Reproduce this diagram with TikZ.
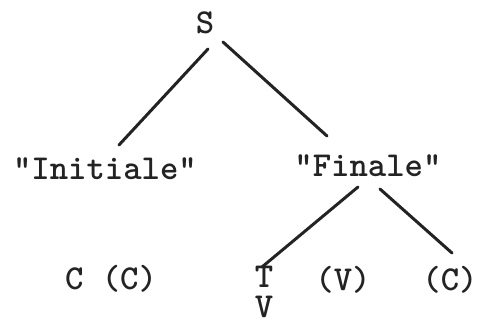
\documentclass[tikz,border=0pt]{standalone}
\usepackage{tikz}
\usepackage{xcolor}
\definecolor{Ink}{RGB}{35,35,35}

\begin{document}
\begin{tikzpicture}[x=0.5pt, y=-0.5pt, every node/.style={font=\ttfamily\bfseries\fontsize{17.5}{20}\selectfont}]
  \tikzstyle{word}=[inner sep=0pt, anchor=base, text=Ink]
  \tikzstyle{branch}=[draw=Ink, line width=1.5pt, line cap=round]
  \useasboundingbox (0,0) rectangle (479,323);
  \node[word] (S)   at (205,33)  {S};
  \node[word] (ini) at (105,179) {"Initiale"};
  \node[word] (fin) at (368,176) {"Finale"};
  \node[word] (cc)  at (111,289) {C (C)};
  \node[word] (T)   at (264,287) {T};
  \node[word] (V)   at (264,317) {V};
  \node[word] (vp)  at (343,290) {(V)};
  \node[word] (cr)  at (450,290) {(C)};
  % branches
  \draw[branch] ([shift={(3,16)}]S.base)   -- ([shift={(14,-34)}]ini.base);
  \draw[branch] ([shift={(18,9)}]S.base)   -- ([shift={(-41,-40)}]fin.base);
  \draw[branch] ([shift={(-10,11)}]fin.base) -- ([shift={(-2,-20)}]T.base);
  \draw[branch] ([shift={(12,13)}]fin.base)  -- ([shift={(2,-37)}]cr.base);
\end{tikzpicture}
\end{document}
